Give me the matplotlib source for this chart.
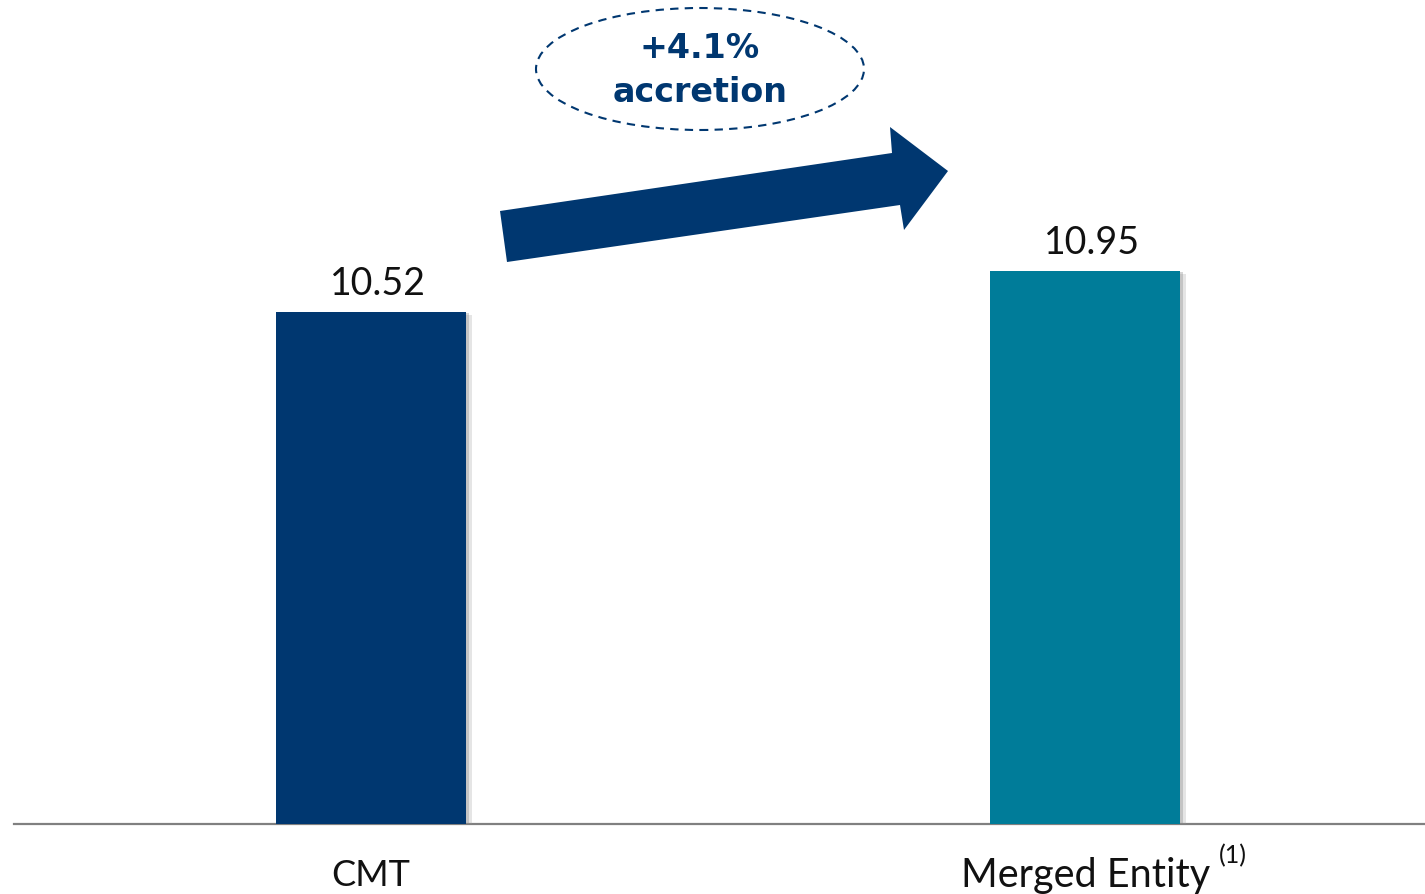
import matplotlib
matplotlib.use("Agg")
import matplotlib.pyplot as plt
from matplotlib.patches import Ellipse, Polygon
import matplotlib.patheffects as pe

categories = ["CMT", "Merged Entity"]
values = [10.52, 10.95]
value_labels = ["10.52", "10.95"]
bar_colors = ["#003770", "#007C99"]
accretion_lines = ["+4.1%", "accretion"]

W, H = 1425, 895
fig = plt.figure(figsize=(W / 100, H / 100), dpi=100)
plt.rcParams['font.family'] = ['Lato', 'DejaVu Sans']

ax = fig.add_axes([14 / W, (H - 825) / H, (W - 14) / W, 825 / H])
x = [0, 1]
bw = 190 / 714
shadow = [pe.SimplePatchShadow(offset=(4, -2), shadow_rgbFace="#999999", alpha=0.25),
          pe.SimplePatchShadow(offset=(2.5, -1), shadow_rgbFace="#888888", alpha=0.35),
          pe.Normal()]
bars = ax.bar(x, values, width=bw, color=bar_colors, zorder=3)
for b in bars:
    b.set_path_effects(shadow)
ax.set_xlim(-(371 - 14) / 714, 1 + (1425 - 1085) / 714)
ax.set_ylim(5.15, 5.15 + 825 / 95.35)

for xi, v, lab in zip(x, values, value_labels):
    ax.annotate(lab, (xi + 0.01, v), xytext=(0, 8), textcoords="offset points",
                ha="center", va="bottom", fontsize=27, color="#111111")

for s in ["top", "right", "left"]:
    ax.spines[s].set_visible(False)
ax.spines["bottom"].set_color("#808080")
ax.spines["bottom"].set_linewidth(1.6)
ax.set_yticks([])
ax.set_xticks(x)
ax.set_xticklabels([])
ax.tick_params(axis="x", length=0)
ax.text(0, -0.061, categories[0], transform=ax.get_xaxis_transform(), ha="center", va="center",
        fontsize=26, color="#111111")
ax.text(1.001, -0.061, categories[1], transform=ax.get_xaxis_transform(), ha="center", va="center",
        fontsize=28.5, color="#111111")
ax.text(1.188, -0.037, "(1)", transform=ax.get_xaxis_transform(), ha="left", va="center",
        fontsize=18, color="#111111")

pts = [(507, 263), (500, 212), (892, 154), (890, 128), (948, 172), (904, 231), (900, 206)]
poly = Polygon([(px / W, 1 - py / H) for px, py in pts], closed=True,
               transform=fig.transFigure, facecolor="#003770", edgecolor="none")
fig.patches.append(poly)

ell = Ellipse((700 / W, 1 - 70 / H), 328 / W, 122 / H, transform=fig.transFigure,
              facecolor="none", edgecolor="#003770", linestyle=(0, (4, 3)), linewidth=1.5)
fig.patches.append(ell)
fig.text(700 / W, 1 - 48 / H, accretion_lines[0], ha="center", va="center", fontsize=24,
         fontweight="bold", family="DejaVu Sans", color="#003770")
fig.text(700 / W, 1 - 93 / H, accretion_lines[1], ha="center", va="center", fontsize=24,
         fontweight="bold", family="DejaVu Sans", color="#003770")

fig.savefig("out.png", dpi=100)
